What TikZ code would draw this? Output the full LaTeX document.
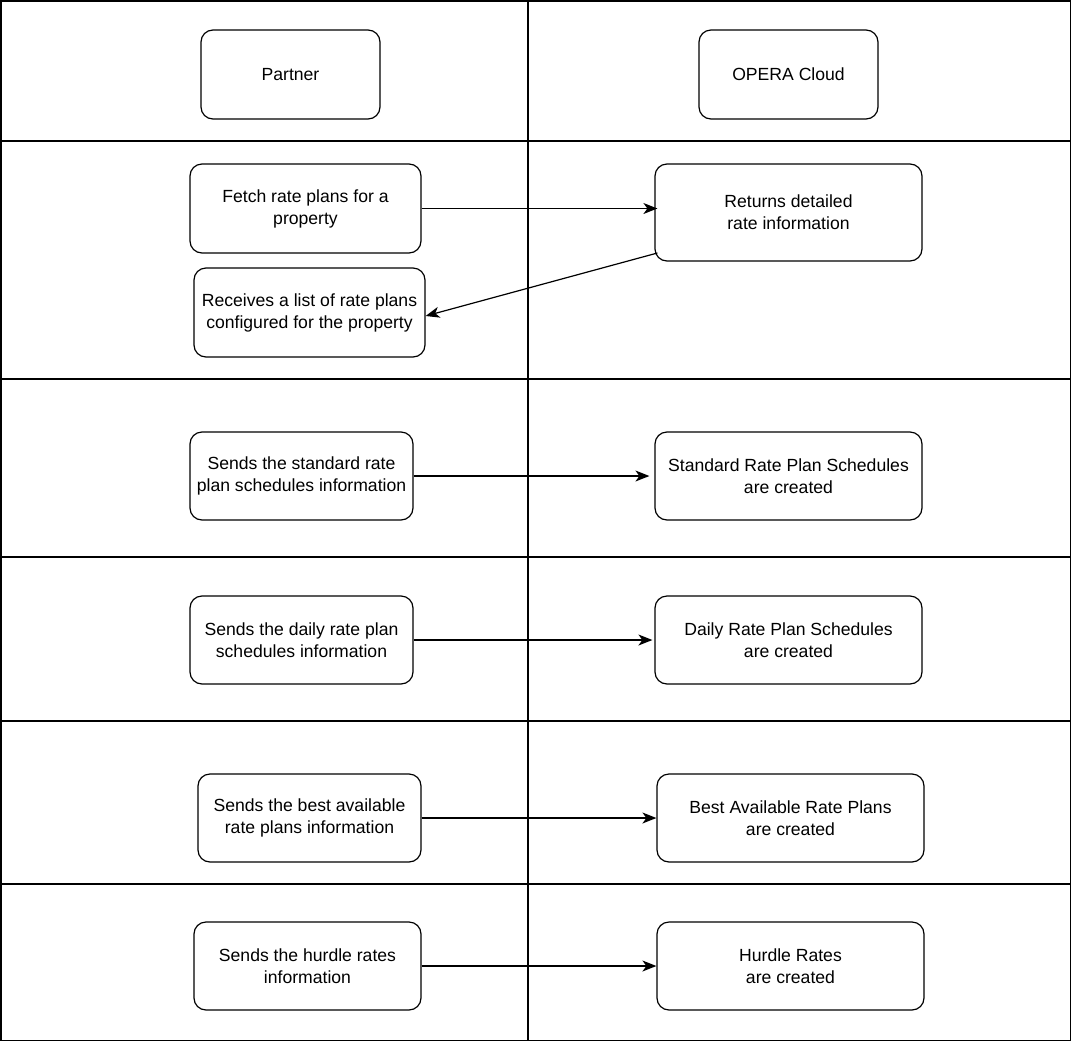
\documentclass[tikz,border=0pt]{standalone}
\usepackage{fontspec}
\setmainfont{Liberation Sans}
\usetikzlibrary{arrows.meta,calc}
\begin{document}
\begin{tikzpicture}[x=1pt,y=-1pt,
  lane/.style={line width=1.4pt,draw=black},
  box/.style={draw=black,line width=1.2pt,rounded corners=12pt,align=center,inner sep=0pt,
    font=\fontsize{17.6}{22}\selectfont},
  arr/.style={line width=1.2pt,-{Stealth[length=14pt,width=11pt,inset=4pt]}}]
\useasboundingbox (0,0) rectangle (1072,1042);
% lanes
\draw[lane] (1,1) rectangle (1070.5,1040.5);
\draw[lane] (528,1) -- (528,1040.5);
\foreach \yy in {141,379,557,721,884} \draw[lane] (1,\yy) -- (1070.5,\yy);
% nodes
\node[box,minimum width=179pt,minimum height=89pt] (partner) at (290.5,74.5) {Partner};
\node[box,minimum width=179pt,minimum height=89pt] (opera) at (788.5,74.5) {OPERA Cloud};
\node[box,minimum width=231pt,minimum height=89pt] (fetch) at (305.5,208.5) {Fetch rate plans for a\\property};
\node[box,minimum width=267pt,minimum height=97pt] (returns) at (788.5,212.5) {Returns detailed\\rate information};
\node[box,minimum width=231pt,minimum height=89pt] (receives) at (309.5,312.5) {Receives a list of rate plans\\configured for the property};
\node[box,minimum width=223pt,minimum height=88pt] (stdsend) at (301.5,476) {Sends the standard rate\\plan schedules information};
\node[box,minimum width=267pt,minimum height=88pt] (stdmade) at (788.5,476) {Standard Rate Plan Schedules\\are created};
\node[box,minimum width=223pt,minimum height=88pt] (dlysend) at (301.5,640) {Sends the daily rate plan\\schedules information};
\node[box,minimum width=267pt,minimum height=88pt] (dlymade) at (788.5,640) {Daily Rate Plan Schedules\\are created};
\node[box,minimum width=223pt,minimum height=88pt] (bestsend) at (309.5,818) {Sends the best available\\rate plans information};
\node[box,minimum width=267pt,minimum height=88pt] (bestmade) at (790.5,818) {Best Available Rate Plans\\are created};
\node[box,minimum width=227pt,minimum height=88pt] (hursend) at (307.5,966) {Sends the hurdle rates\\information};
\node[box,minimum width=267pt,minimum height=88pt] (hurmade) at (790.5,966) {Hurdle Rates\\are created};
% connectors
\draw[arr] (fetch.east) -- ([xshift=3pt]fetch.east -| returns.west);
\draw[arr] ([xshift=3pt,yshift=-40.5pt]returns.west) -- ([yshift=-3.5pt]receives.east);
\draw[arr,shorten >=5pt] (stdsend.east) -- (stdmade.west);
\draw[arr,shorten >=2pt] (dlysend.east) -- (dlymade.west);
\draw[arr] (bestsend.east) -- (bestmade.west);
\draw[arr] (hursend.east) -- (hurmade.west);
\end{tikzpicture}
\end{document}
